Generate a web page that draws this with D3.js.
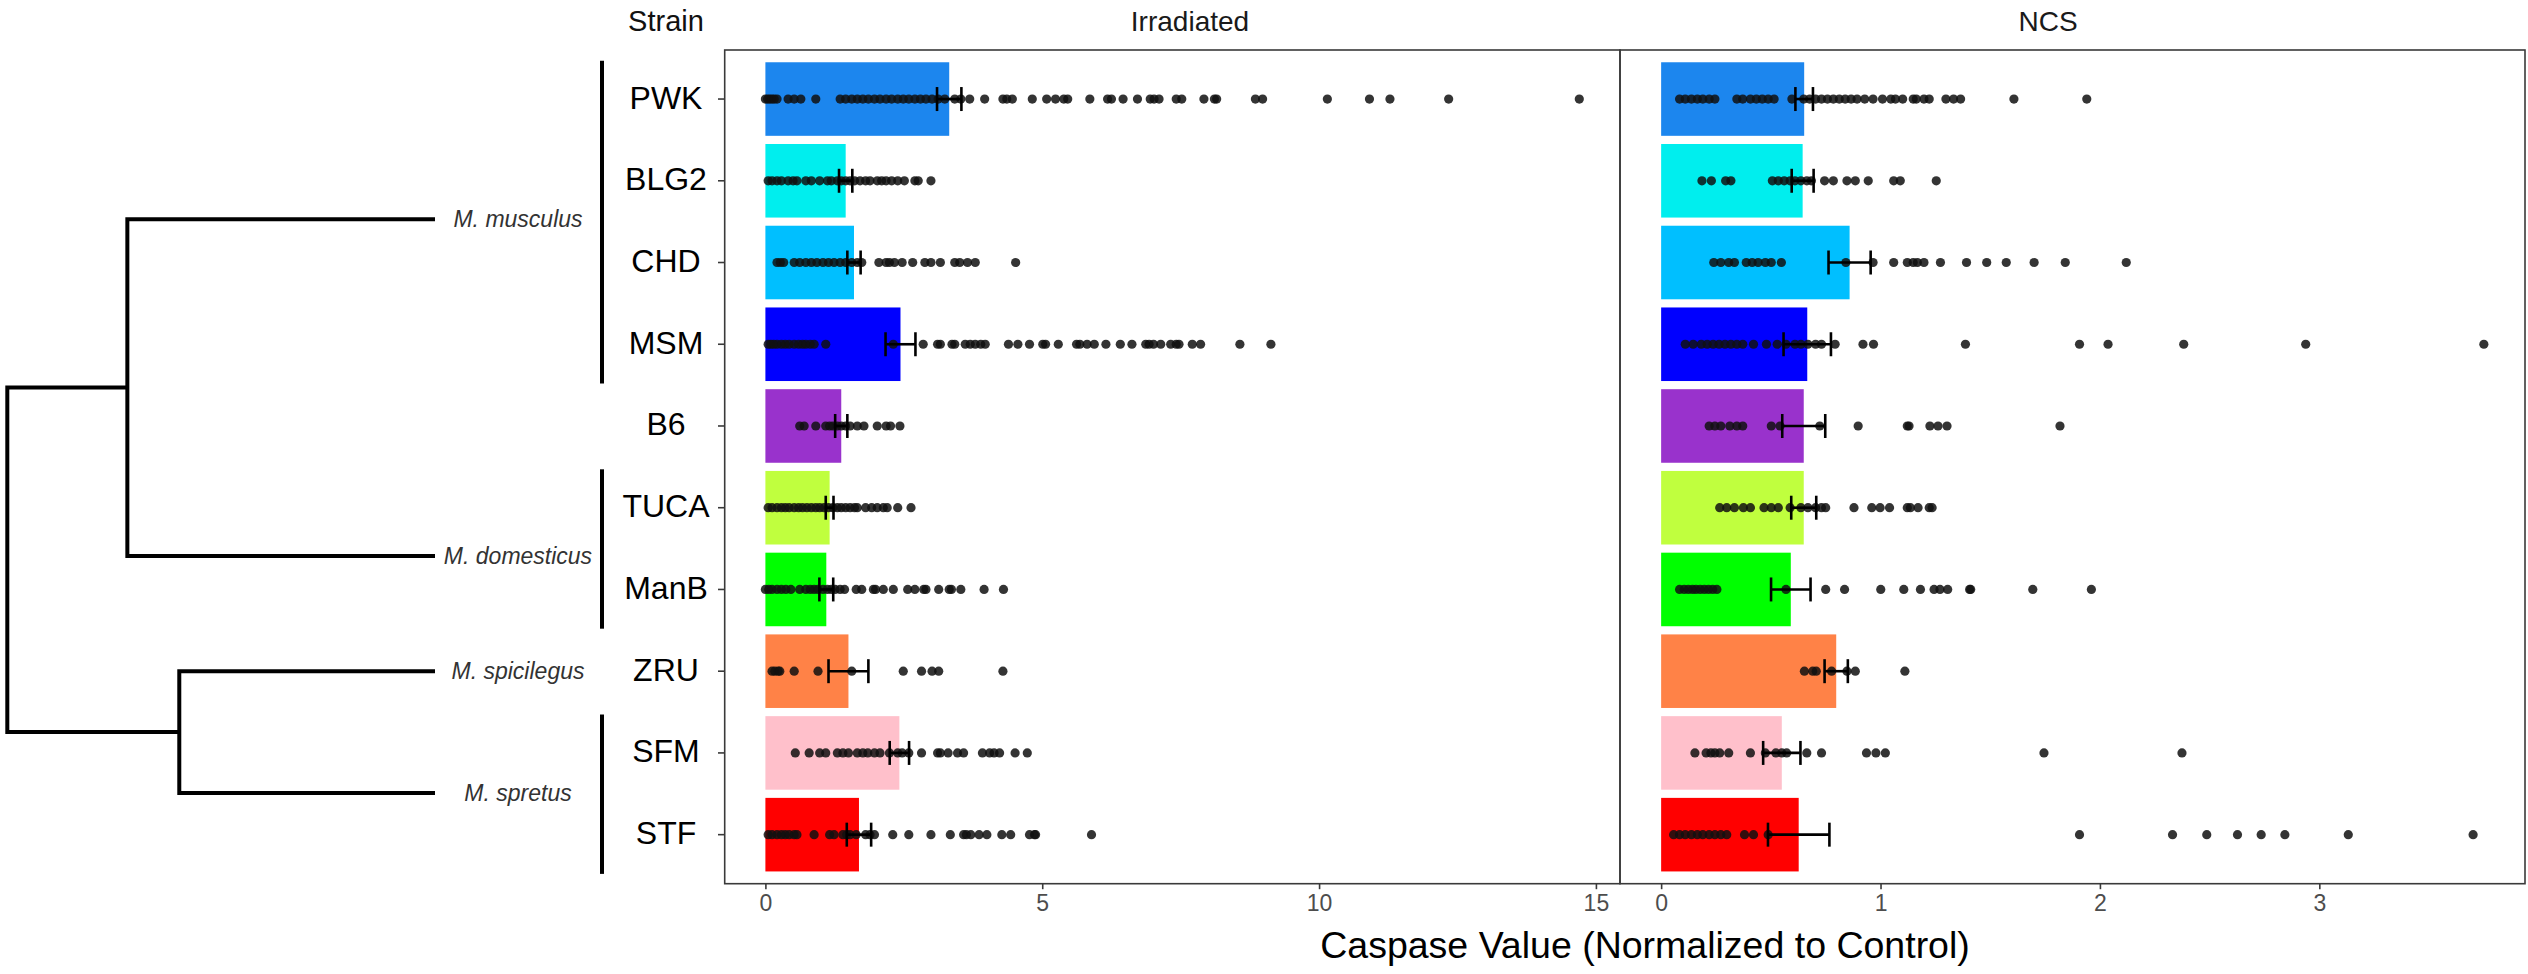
<!DOCTYPE html>
<html>
<head>
<meta charset="utf-8">
<script src="https://cdn.jsdelivr.net/npm/d3@7"></script>
<style>
  html, body { margin: 0; padding: 0; background: #fff; }
  svg { display: block; font-family: "Liberation Sans", Arial, sans-serif; }
</style>
</head>
<body>
<svg id="chart" width="2528" height="974"></svg>
<script>
// ---- Strains, colours and species groups ----
const strains = ["PWK", "BLG2", "CHD", "MSM", "B6", "TUCA", "ManB", "ZRU", "SFM", "STF"];
const strainColors = ["#1C86EE", "#00EEEE", "#00BFFF", "#0000FF", "#9932CC",
                      "#C0FF3E", "#00FF00", "#FF8247", "#FFC0CB", "#FF0000"];

const treatments = ["Irradiated", "NCS"];

// Mean caspase value and standard error per strain
const irradiatedMean = [3.32, 1.45, 1.60, 2.44, 1.37, 1.16, 1.10, 1.50, 2.42, 1.69];
const irradiatedSE   = [0.22, 0.12, 0.12, 0.27, 0.11, 0.07, 0.125, 0.36, 0.175, 0.22];
const ncsMean = [0.652, 0.645, 0.859, 0.666, 0.650, 0.650, 0.591, 0.798, 0.550, 0.627];
const ncsSE   = [0.04, 0.05, 0.096, 0.108, 0.098, 0.057, 0.09, 0.053, 0.085, 0.14];

// Individual measurements, one list per strain (same order as strains)
const irradiatedPoints = [
  [0.0, 0.04, 0.08, 0.12, 0.16, 0.21, 0.41, 0.52, 0.64, 0.91, 1.35, 1.45, 1.56, 1.66, 1.76, 1.86, 1.97,
   2.07, 2.18, 2.28, 2.39, 2.49, 2.59, 2.70, 2.80, 2.90, 3.01, 3.12, 3.24, 3.42, 3.53, 3.69, 3.96, 4.29,
   4.36, 4.46, 4.82, 5.08, 5.24, 5.39, 5.46, 5.86, 6.18, 6.25, 6.46, 6.72, 6.95, 7.02, 7.11, 7.42, 7.52,
   7.92, 8.11, 8.15, 8.85, 8.98, 10.15, 10.91, 11.28, 12.34, 14.70],
  [0.05, 0.12, 0.21, 0.29, 0.41, 0.50, 0.57, 0.73, 0.83, 0.98, 1.12, 1.19, 1.30, 1.37, 1.45, 1.53, 1.61,
   1.71, 1.81, 1.89, 2.02, 2.10, 2.18, 2.28, 2.39, 2.51, 2.70, 2.76, 2.99],
  [0.21, 0.27, 0.33, 0.52, 0.62, 0.73, 0.83, 0.93, 1.04, 1.14, 1.24, 1.35, 1.45, 1.56, 1.66, 1.74, 2.05,
   2.18, 2.24, 2.33, 2.47, 2.66, 2.88, 2.99, 3.16, 3.42, 3.51, 3.65, 3.79, 4.52],
  [0.05, 0.10, 0.15, 0.21, 0.29, 0.36, 0.43, 0.52, 0.60, 0.67, 0.73, 0.81, 0.88, 1.09, 2.31, 2.85, 3.11,
   3.16, 3.37, 3.42, 3.61, 3.70, 3.79, 3.89, 3.97, 4.39, 4.56, 4.77, 5.01, 5.06, 5.29, 5.62, 5.68, 5.81,
   5.94, 6.15, 6.41, 6.62, 6.87, 6.93, 7.01, 7.14, 7.32, 7.42, 7.47, 7.71, 7.86, 8.57, 9.13],
  [0.62, 0.70, 0.91, 1.09, 1.16, 1.22, 1.30, 1.37, 1.45, 1.53, 1.66, 1.78, 2.02, 2.18, 2.26, 2.43],
  [0.05, 0.12, 0.21, 0.29, 0.36, 0.43, 0.52, 0.60, 0.67, 0.75, 0.83, 0.91, 0.98, 1.06, 1.14, 1.22, 1.30,
   1.37, 1.45, 1.53, 1.61, 1.66, 1.81, 1.92, 2.02, 2.13, 2.20, 2.39, 2.63],
  [0.0, 0.06, 0.12, 0.21, 0.29, 0.37, 0.46, 0.62, 0.73, 0.81, 0.88, 0.95, 1.04, 1.12, 1.19, 1.26, 1.35,
   1.43, 1.64, 1.74, 1.95, 1.99, 2.13, 2.31, 2.57, 2.70, 2.86, 2.90, 3.13, 3.32, 3.36, 3.53, 3.95, 4.30],
  [0.12, 0.17, 0.23, 0.26, 0.52, 0.95, 1.56, 2.49, 2.82, 3.01, 3.13, 4.29],
  [0.54, 0.79, 0.98, 1.09, 1.30, 1.40, 1.50, 1.66, 1.76, 1.85, 1.97, 2.07, 2.24, 2.39, 2.47, 2.59, 2.82,
   3.11, 3.16, 3.30, 3.47, 3.58, 3.92, 4.05, 4.13, 4.23, 4.51, 4.73],
  [0.05, 0.12, 0.21, 0.29, 0.36, 0.43, 0.52, 0.57, 0.88, 1.16, 1.24, 1.40, 1.47, 1.53, 1.64, 1.81, 1.89,
   1.97, 2.30, 2.59, 2.99, 3.34, 3.58, 3.63, 3.71, 3.86, 4.00, 4.27, 4.43, 4.77, 4.86, 4.88, 5.89]
];

const ncsPoints = [
  [0.084, 0.11, 0.138, 0.165, 0.19, 0.219, 0.245, 0.345, 0.372, 0.407, 0.434, 0.461, 0.488, 0.515, 0.596,
   0.650, 0.677, 0.704, 0.731, 0.758, 0.785, 0.812, 0.839, 0.866, 0.893, 0.928, 0.966, 1.009, 1.047, 1.068,
   1.101, 1.149, 1.163, 1.198, 1.222, 1.298, 1.333, 1.365, 1.608, 1.940],
  [0.186, 0.229, 0.294, 0.318, 0.507, 0.534, 0.561, 0.588, 0.610, 0.637, 0.664, 0.685, 0.745, 0.785, 0.847,
   0.885, 0.944, 1.06, 1.09, 1.254],
  [0.24, 0.272, 0.308, 0.334, 0.388, 0.415, 0.442, 0.475, 0.502, 0.548, 0.842, 0.966, 1.060, 1.122, 1.149,
   1.168, 1.198, 1.273, 1.392, 1.484, 1.573, 1.700, 1.842, 2.120],
  [0.11, 0.146, 0.183, 0.21, 0.237, 0.264, 0.291, 0.318, 0.345, 0.372, 0.421, 0.48, 0.529, 0.569, 0.610,
   0.637, 0.669, 0.704, 0.731, 0.793, 0.92, 0.968, 1.387, 1.907, 2.037, 2.382, 2.938, 3.75],
  [0.219, 0.245, 0.272, 0.313, 0.345, 0.372, 0.502, 0.542, 0.723, 0.898, 1.122, 1.13, 1.225, 1.262, 1.303,
   1.818],
  [0.267, 0.299, 0.334, 0.375, 0.407, 0.469, 0.502, 0.534, 0.588, 0.637, 0.669, 0.704, 0.731, 0.750, 0.879,
   0.960, 0.998, 1.041, 1.122, 1.136, 1.171, 1.222, 1.235],
  [0.084, 0.105, 0.124, 0.143, 0.159, 0.178, 0.197, 0.216, 0.235, 0.254, 0.569, 0.750, 0.836, 1.001, 1.106,
   1.182, 1.244, 1.271, 1.306, 1.406, 1.411, 1.694, 1.961],
  [0.653, 0.691, 0.707, 0.777, 0.847, 0.885, 1.111],
  [0.154, 0.205, 0.227, 0.245, 0.267, 0.308, 0.407, 0.475, 0.523, 0.550, 0.572, 0.664, 0.731, 0.936, 0.979,
   1.022, 1.745, 2.374],
  [0.057, 0.084, 0.11, 0.138, 0.165, 0.19, 0.219, 0.245, 0.272, 0.299, 0.380, 0.421, 0.488, 1.907, 2.331,
   2.487, 2.627, 2.735, 2.843, 3.132, 3.701]
];

const irradiatedTicks = [0, 5, 10, 15];
const ncsTicks = [0, 1, 2, 3];

// Species, their strains and their place on the tree
const species = ["M. musculus", "M. domesticus", "M. spicilegus", "M. spretus"];
const speciesFirstStrain = ["PWK", "TUCA", "ZRU", "SFM"];
const speciesLastStrain  = ["MSM", "ManB", "ZRU", "STF"];
// leaf position along the strain axis, in strain-index units
const speciesLeafIndex = [1.47, 5.59, 7.0, 8.49];
// internal nodes of the tree: children and relative depth (0 = root, 1 = leaves)
const treeNodes = [
  { name: "root", depth: 0, children: ["cladeA", "cladeB"] },
  { name: "cladeA", depth: 0.282, children: ["M. musculus", "M. domesticus"] },
  { name: "cladeB", depth: 0.404, children: ["M. spicilegus", "M. spretus"] }
];

const xTitle = "Caspase Value (Normalized to Control)";

// ---- Layout ----
const svg = d3.select("#chart");
const plotTop = 50, plotBottom = 883.7;
const panels = [
  { title: "Irradiated", x0: 724.7, x1: 1620, mean: irradiatedMean, se: irradiatedSE,
    points: irradiatedPoints, ticks: irradiatedTicks, titleX: 1190 },
  { title: "NCS", x0: 1620, x1: 2525, mean: ncsMean, se: ncsSE,
    points: ncsPoints, ticks: ncsTicks, titleX: 2048 }
];

const y = d3.scalePoint().domain(strains).range([plotTop, plotBottom]).padding(0.6);
const step = y.step();
const barH = step * 0.9;

panels.forEach((p, pi) => {
  const maxV = d3.max(p.points.flat().concat(p.mean.map((m, i) => m + p.se[i])));
  const x = d3.scaleLinear().domain([-0.05 * maxV, 1.05 * maxV]).range([p.x0, p.x1]);
  const g = svg.append("g").attr("class", "panel");

  // bars
  g.selectAll("rect.bar").data(strains).join("rect")
    .attr("class", "bar")
    .attr("x", x(0))
    .attr("y", d => y(d) - barH / 2)
    .attr("width", (d, i) => x(p.mean[i]) - x(0))
    .attr("height", barH)
    .attr("fill", (d, i) => strainColors[i]);

  // individual points
  const pts = [];
  strains.forEach((s, i) => p.points[i].forEach(v => pts.push({ s, v })));
  g.selectAll("circle.pt").data(pts).join("circle")
    .attr("class", "pt")
    .attr("cx", d => x(d.v))
    .attr("cy", d => y(d.s))
    .attr("r", 4.6)
    .attr("fill", "#111")
    .attr("fill-opacity", 0.85);

  // error bars (mean ± SE)
  const cap = 12;
  const eb = g.selectAll("g.err").data(strains).join("g").attr("class", "err")
    .attr("stroke", "#000").attr("stroke-width", 2.6).attr("fill", "none");
  eb.append("line")
    .attr("x1", (d, i) => x(p.mean[i] - p.se[i])).attr("x2", (d, i) => x(p.mean[i] + p.se[i]))
    .attr("y1", d => y(d)).attr("y2", d => y(d));
  eb.append("line")
    .attr("x1", (d, i) => x(p.mean[i] - p.se[i])).attr("x2", (d, i) => x(p.mean[i] - p.se[i]))
    .attr("y1", d => y(d) - cap).attr("y2", d => y(d) + cap);
  eb.append("line")
    .attr("x1", (d, i) => x(p.mean[i] + p.se[i])).attr("x2", (d, i) => x(p.mean[i] + p.se[i]))
    .attr("y1", d => y(d) - cap).attr("y2", d => y(d) + cap);

  // panel frame
  g.append("rect")
    .attr("x", p.x0).attr("y", plotTop)
    .attr("width", p.x1 - p.x0).attr("height", plotBottom - plotTop)
    .attr("fill", "none").attr("stroke", "#3a3a3a").attr("stroke-width", 1.6);

  // x axis
  const ax = svg.append("g").attr("transform", `translate(0,${plotBottom})`)
    .call(d3.axisBottom(x).tickValues(p.ticks).tickSize(5.5).tickPadding(6).tickFormat(d3.format("d")));
  ax.select(".domain").remove();
  ax.selectAll(".tick line").attr("stroke", "#3a3a3a").attr("stroke-width", 1.6);
  ax.selectAll(".tick text")
    .attr("fill", "#4D4D4D")
    .attr("font-size", 23)
    .attr("font-family", "Liberation Sans, Arial, sans-serif")
    .attr("dy", "0.71em")
    .attr("y", 10.5);

  // panel title
  svg.append("text")
    .attr("x", p.titleX).attr("y", 31)
    .attr("text-anchor", "middle")
    .attr("font-size", 28)
    .attr("fill", "#1a1a1a")
    .text(p.title);
});

// y axis ticks on the left panel only
svg.append("g").selectAll("line").data(strains).join("line")
  .attr("x1", 718).attr("x2", 724.7)
  .attr("y1", d => y(d)).attr("y2", d => y(d))
  .attr("stroke", "#3a3a3a").attr("stroke-width", 1.6);

// strain labels
svg.append("text")
  .attr("x", 666).attr("y", 31)
  .attr("text-anchor", "middle").attr("font-size", 29).attr("fill", "#111")
  .text("Strain");
svg.append("g").selectAll("text").data(strains).join("text")
  .attr("x", 666)
  .attr("y", d => y(d) + 9.5)
  .attr("text-anchor", "middle")
  .attr("font-size", 32)
  .attr("fill", "#000")
  .text(d => d);

// species brackets
const bracketX = 602;
svg.append("g").selectAll("line").data(species.filter((s, i) => speciesFirstStrain[i] !== speciesLastStrain[i]))
  .join("line")
  .attr("x1", bracketX).attr("x2", bracketX)
  .attr("y1", s => y(speciesFirstStrain[species.indexOf(s)]) - step * 0.47)
  .attr("y2", s => y(speciesLastStrain[species.indexOf(s)]) + step * 0.48)
  .attr("stroke", "#000").attr("stroke-width", 4);

// tree
const idxToY = d3.scaleLinear().domain([0, strains.length - 1]).range([y(strains[0]), y(strains[strains.length - 1])]);
const depthX = d3.scaleLinear().domain([0, 1]).range([7.3, 433]);
const nodePos = {};
species.forEach((s, i) => { nodePos[s] = { x: depthX(1), y: idxToY(speciesLeafIndex[i]) }; });
// resolve internal nodes bottom-up
[...treeNodes].reverse().forEach(n => {
  const ys = n.children.map(c => nodePos[c].y);
  nodePos[n.name] = { x: depthX(n.depth), y: d3.mean(ys) };
});
const treePath = d3.path();
treeNodes.forEach(n => {
  const p = nodePos[n.name];
  const ys = n.children.map(c => nodePos[c].y);
  treePath.moveTo(p.x, d3.min(ys));
  treePath.lineTo(p.x, d3.max(ys));
  n.children.forEach(c => {
    treePath.moveTo(p.x, nodePos[c].y);
    treePath.lineTo(nodePos[c].x, nodePos[c].y);
  });
});
svg.append("path").attr("d", treePath.toString())
  .attr("fill", "none").attr("stroke", "#000").attr("stroke-width", 4)
  .attr("stroke-linecap", "square");

// species names
svg.append("g").selectAll("text").data(species).join("text")
  .attr("x", 518)
  .attr("y", s => nodePos[s].y)
  .attr("dy", "0.33em")
  .attr("text-anchor", "middle")
  .attr("font-size", 23)
  .attr("font-style", "italic")
  .attr("fill", "#333")
  .text(s => s);

// x axis title
svg.append("text")
  .attr("x", 1645).attr("y", 958)
  .attr("text-anchor", "middle")
  .attr("font-size", 37.5)
  .attr("fill", "#000")
  .text(xTitle);
</script>
</body>
</html>
